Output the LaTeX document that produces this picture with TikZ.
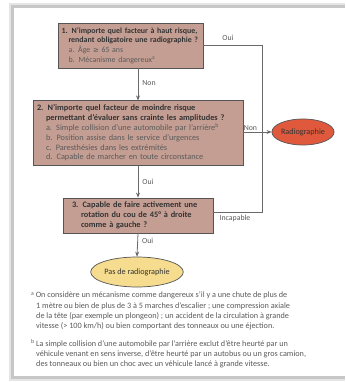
\documentclass[tikz,border=0pt]{standalone}
\usepackage{fontspec}
\setmainfont{Carlito}
\newfontfamily\symfont{DejaVu Sans}
\usetikzlibrary{arrows.meta,shapes.geometric,calc}
\definecolor{boxfill}{HTML}{C49E93}
\definecolor{boxline}{HTML}{555555}
\definecolor{txtgray}{HTML}{5A5A5A}
\definecolor{txtdark}{HTML}{333333}
\definecolor{radfill}{HTML}{E0593C}
\definecolor{pasfill}{HTML}{F6DC8E}
\definecolor{linegray}{HTML}{6A6A6A}
\begin{document}
\begin{tikzpicture}[x=1pt,y=-1pt,
  qbox/.style={draw=boxline,line width=0.8pt,fill=boxfill,inner sep=4pt,align=left,
    font=\fontsize{8}{9.7}\selectfont,text=txtgray,anchor=center},
  conn/.style={draw=linegray,line width=0.8pt},
  arr/.style={conn,-{Stealth[length=5pt,width=4pt,fill=black]}},
  lbl/.style={font=\fontsize{7.8}{9}\selectfont,text=txtgray,inner sep=1pt},
  oval/.style={ellipse,draw=boxline,line width=0.7pt,inner sep=0pt,font=\fontsize{8.2}{9}\selectfont},
  fn/.style={font=\fontsize{8.2}{10.3}\selectfont,text=txtgray,align=left,anchor=north west,inner sep=0pt}
]
\useasboundingbox (0,0) rectangle (345,382);
% page with shadow
\fill[black!10] (9,3) rectangle (345,381);
\fill[black!22] (11,5) rectangle (345,379);
\fill[white] (14,8) rectangle (345,376);

\node[qbox,minimum width=145,minimum height=45,text width=142,inner xsep=1.5pt,font=\fontsize{7.9}{9.6}\selectfont] (b1) at (130.5,45.5)
{\hspace*{2pt}\textcolor{txtdark}{\textbf{1. N'importe quel facteur à haut risque,}}\\
 \hspace*{9pt}\textcolor{txtdark}{\textbf{rendant obligatoire une radiographie~?}}\\
 \hspace*{9pt}a. Âge {\symfont\fontsize{7}{9}\selectfont ≥} 65 ans\\
 \hspace*{9pt}b. Mécanisme dangereux\textsuperscript{a}};

\node[qbox,minimum width=210,minimum height=64,text width=202,inner xsep=4pt,font=\fontsize{8.3}{9.8}\selectfont] (b2) at (138,133)
{\textcolor{txtdark}{\textbf{2. N'importe quel facteur de moindre risque}}\\
 \hspace*{9pt}\textcolor{txtdark}{\textbf{permettant d'évaluer sans crainte les amplitudes~?}}\\
 \hspace*{9pt}a. Simple collision d'une automobile par l'arrière\textsuperscript{b}\\
 \hspace*{9pt}b. Position assise dans le service d'urgences\\
 \hspace*{9pt}c. Paresthésies dans les extrémités\\
 \hspace*{9pt}d. Capable de marcher en toute circonstance};

\node[qbox,minimum width=150,minimum height=35,text width=136,inner xsep=7pt,text=txtdark,font=\bfseries\fontsize{8.3}{9.8}\selectfont] (b3) at (138,215.5)
{\hspace*{2pt}3. Capable de faire activement une\\
 \hspace*{11pt}rotation du cou de 45° à droite\\
 \hspace*{11pt}comme à gauche~?};

\node[oval,fill=radfill,minimum width=60,minimum height=26,text=black!80] (rad) at (303,132) {Radiographie};
\node[oval,fill=pasfill,minimum width=71,minimum height=30,text=black!80] (pas) at (137,272) {Pas de radiographie};

\coordinate (j1) at (262,45.5);
\coordinate (j2) at (262,212);

\draw[arr] (b1.south -| b2.north) -- node[lbl,right=3pt,pos=0.45]{Non} (b2.north);
\draw[arr] (b2.south) -- node[lbl,right=3pt,pos=0.5]{Oui} (b3.north);
\draw[arr] (b3.south) -- node[lbl,right=3pt,pos=0.3]{Oui} (pas.north);
\draw[arr] (b2.east |- rad.west) -- node[lbl,above=0pt,pos=0.25]{Non} (rad.west);
\draw[conn] (b1.east) -- node[lbl,above=4pt,pos=0.42]{Oui} (j1) -- (j2) -- (j2 -| b3.east);
\node[lbl,anchor=north] at (235,214) {Incapable};

\node[fn] (fa) at (31,292) {\textsuperscript{a}\,On considère un mécanisme comme dangereux s'il y a une chute de plus de\\
\hspace*{5pt}1 mètre ou bien de plus de 3 à 5 marches d'escalier ; une compression axiale\\
\hspace*{5pt}de la tête (par exemple un plongeon) ; un accident de la circulation à grande\\
\hspace*{5pt}vitesse (> 100 km/h) ou bien comportant des tonneaux ou une éjection.};
\node[fn] (fb) at (31,339) {\textsuperscript{b}\,La simple collision d'une automobile par l'arrière exclut d'être heurté par un\\
\hspace*{5pt}véhicule venant en sens inverse, d'être heurté par un autobus ou un gros camion,\\
\hspace*{5pt}des tonneaux ou bien un choc avec un véhicule lancé à grande vitesse.};
\end{tikzpicture}
\end{document}
